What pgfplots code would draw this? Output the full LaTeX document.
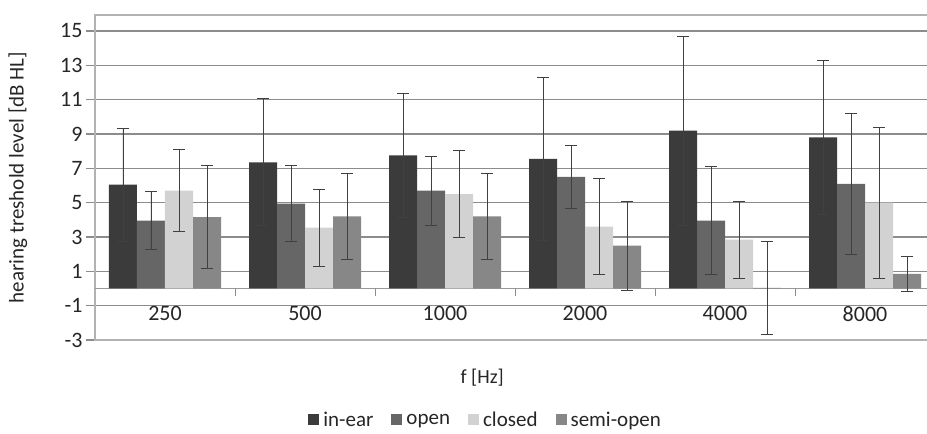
\documentclass[border=0pt]{standalone}
\usepackage{fontspec}
\setmainfont{Carlito}
\usepackage{pgfplots}
\pgfplotsset{compat=1.18}
\definecolor{cInEar}{HTML}{3B3B3B}
\definecolor{cOpen}{HTML}{666666}
\definecolor{cClosed}{HTML}{D2D2D2}
\definecolor{cSemi}{HTML}{878787}
\pgfplotsset{sqlegend/.style={legend image code/.code={\fill[##1] (0pt,-5pt) rectangle (11pt,6pt);}}}
\begin{document}
\begin{tikzpicture}[x=1pt,y=1pt]
\useasboundingbox (0,0) rectangle (927,434);
\begin{axis}[
  at={(95pt,94pt)}, anchor=south west,
  scale only axis, width=840pt, height=325pt,
  xmin=-0.5, xmax=5.5, ymin=-3, ymax=15.93,
  ybar=0pt, bar width=0.2,
  xtick={0,...,5}, xticklabels={250,500,1000,2000,4000,8000},
  xtick style={draw=none},
  xticklabel style={yshift=46pt},
  ytick={-3,-1,...,15},
  ymajorgrids, grid style={black!45, line width=1.4pt},
  axis line style={black!30, line width=1.4pt},
  ytick style={black!45, line width=1.4pt},
  tick align=outside, major tick length=9pt,
  extra y ticks={0}, extra y tick labels={},
  extra y tick style={grid style={black!40, line width=1pt}, major tick length=0pt},
  /pgf/number format/assume math mode=true,
  tick label style={font=\fontsize{22}{26}\selectfont, text=black!85},
  xlabel={f [Hz]}, ylabel={hearing treshold level [dB HL]},
  xlabel style={at={(axis description cs:0.461,0)}, anchor=center, yshift=-38pt, font=\fontsize{20}{24}\selectfont, text=black!85},
  ylabel style={at={(axis description cs:-0.0917,0.5)}, anchor=center, font=\fontsize{21}{25}\selectfont, text=black!85},
  legend style={at={(axis description cs:0.465,-0.247)}, anchor=center, draw=none, fill=none,
    legend columns=-1, font=\fontsize{21}{25}\selectfont, text=black!85,
    /tikz/every odd column/.append style={column sep=2pt},
    /tikz/every even column/.append style={column sep=16pt}},
  error bars/error bar style={black!75, line width=0.8pt},
  error bars/error mark options={rotate=90, black!75, line width=0.8pt, mark size=6pt},
]
\addplot[fill=cInEar, draw=none, sqlegend, error bars/.cd, y dir=both, y explicit]
  coordinates {(0,6.05) +- (0,3.3) (1,7.35) +- (0,3.7) (2,7.75) +- (0,3.6)
               (3,7.55) +- (0,4.75) (4,9.2) +- (0,5.5) (5,8.8) +- (0,4.5)};
\addplot[fill=cOpen, draw=none, sqlegend, error bars/.cd, y dir=both, y explicit]
  coordinates {(0,3.95) +- (0,1.7) (1,4.95) +- (0,2.2) (2,5.7) +- (0,2.0)
               (3,6.5) +- (0,1.85) (4,3.95) +- (0,3.15) (5,6.1) +- (0,4.1)};
\addplot[fill=cClosed, draw=none, sqlegend, error bars/.cd, y dir=both, y explicit]
  coordinates {(0,5.7) +- (0,2.4) (1,3.55) +- (0,2.25) (2,5.5) +- (0,2.55)
               (3,3.6) +- (0,2.8) (4,2.85) +- (0,2.25) (5,5.0) +- (0,4.4)};
\addplot[fill=cSemi, draw=none, sqlegend, error bars/.cd, y dir=both, y explicit]
  coordinates {(0,4.15) +- (0,3.0) (1,4.2) +- (0,2.5) (2,4.2) +- (0,2.5)
               (3,2.5) +- (0,2.6) (4,0.03) +- (0,2.7) (5,0.85) +- (0,1.0)};
\addplot[ycomb, black!45, line width=1pt, forget plot, mark=none]
  coordinates {(0.5,-0.45) (1.5,-0.45) (2.5,-0.45) (3.5,-0.45) (4.5,-0.45)};
\legend{in-ear, open, closed, semi-open}
\end{axis}
\end{tikzpicture}
\end{document}
